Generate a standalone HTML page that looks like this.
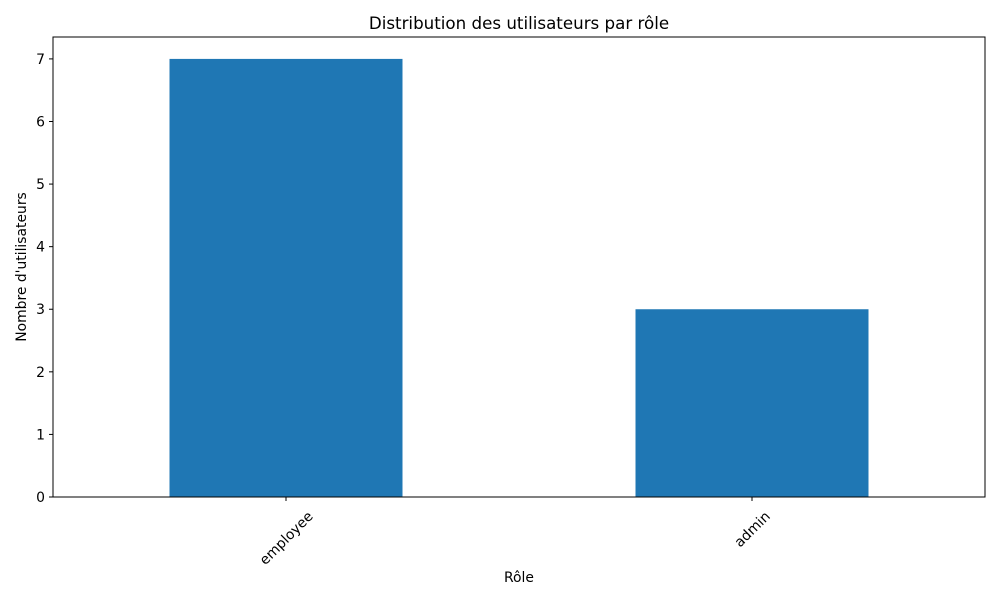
<!DOCTYPE html>
<html><head><meta charset="utf-8"><style>
body{margin:0;background:#fff;}
svg{display:block;font-family:"DejaVu Sans","Liberation Sans",sans-serif;}
</style></head><body>
<svg id="chart" width="1000" height="600">
<text x="519" y="29" font-size="16.7" text-anchor="middle">Distribution des utilisateurs par rôle</text>
<text x="519" y="582" font-size="13.9" text-anchor="middle">Rôle</text>
<text transform="translate(26,267) rotate(-90)" font-size="13.9" text-anchor="middle">Nombre d'utilisateurs</text>
<g id="marks"></g>
<rect x="53" y="37" width="932" height="460" fill="none" stroke="#000" stroke-width="1"/>
</svg>
<script>
const categories = ["employee", "admin"];
const values = [7, 3];
const yTicks = [0, 1, 2, 3, 4, 5, 6, 7];
const L=53,R=985,T=37,B=497,yMax=7.35;
const y=v=>B-(v/yMax)*(B-T);
const band=(R-L)/categories.length;
const x=i=>L+band*(i+0.5);
const ns="http://www.w3.org/2000/svg";
const g=document.getElementById('marks');
function mk(t,a){const e=document.createElementNS(ns,t);for(const k in a)e.setAttribute(k,a[k]);g.appendChild(e);return e;}
values.forEach((v,i)=>{
  const r=mk('rect',{x:x(i)-band*0.25,y:y(v),width:band*0.5,height:B-y(v),fill:'#1f77b4'});
  
  
  const tk=mk('line',{x1:x(i),x2:x(i),y1:B,y2:B+4,stroke:'#000'});
  
  
  const t=mk('text',{'font-size':13.9,'text-anchor':'middle'});
  t.textContent=categories[i];
  
  
  const w=t.getComputedTextLength();
  const cy=B+12+(w+13)*0.707/2;
  t.setAttribute('transform',`translate(${x(i)},${cy}) rotate(-45) translate(0,5)`);
});
yTicks.forEach(v=>{
  const tk=mk('line',{x1:L-4,x2:L,y1:y(v),y2:y(v),stroke:'#000'});
  
  
  const t=mk('text',{x:L-8,y:y(v)+5,'font-size':13.9,'text-anchor':'end'});
  t.textContent=v;
  
  
});
</script>
</body></html>
